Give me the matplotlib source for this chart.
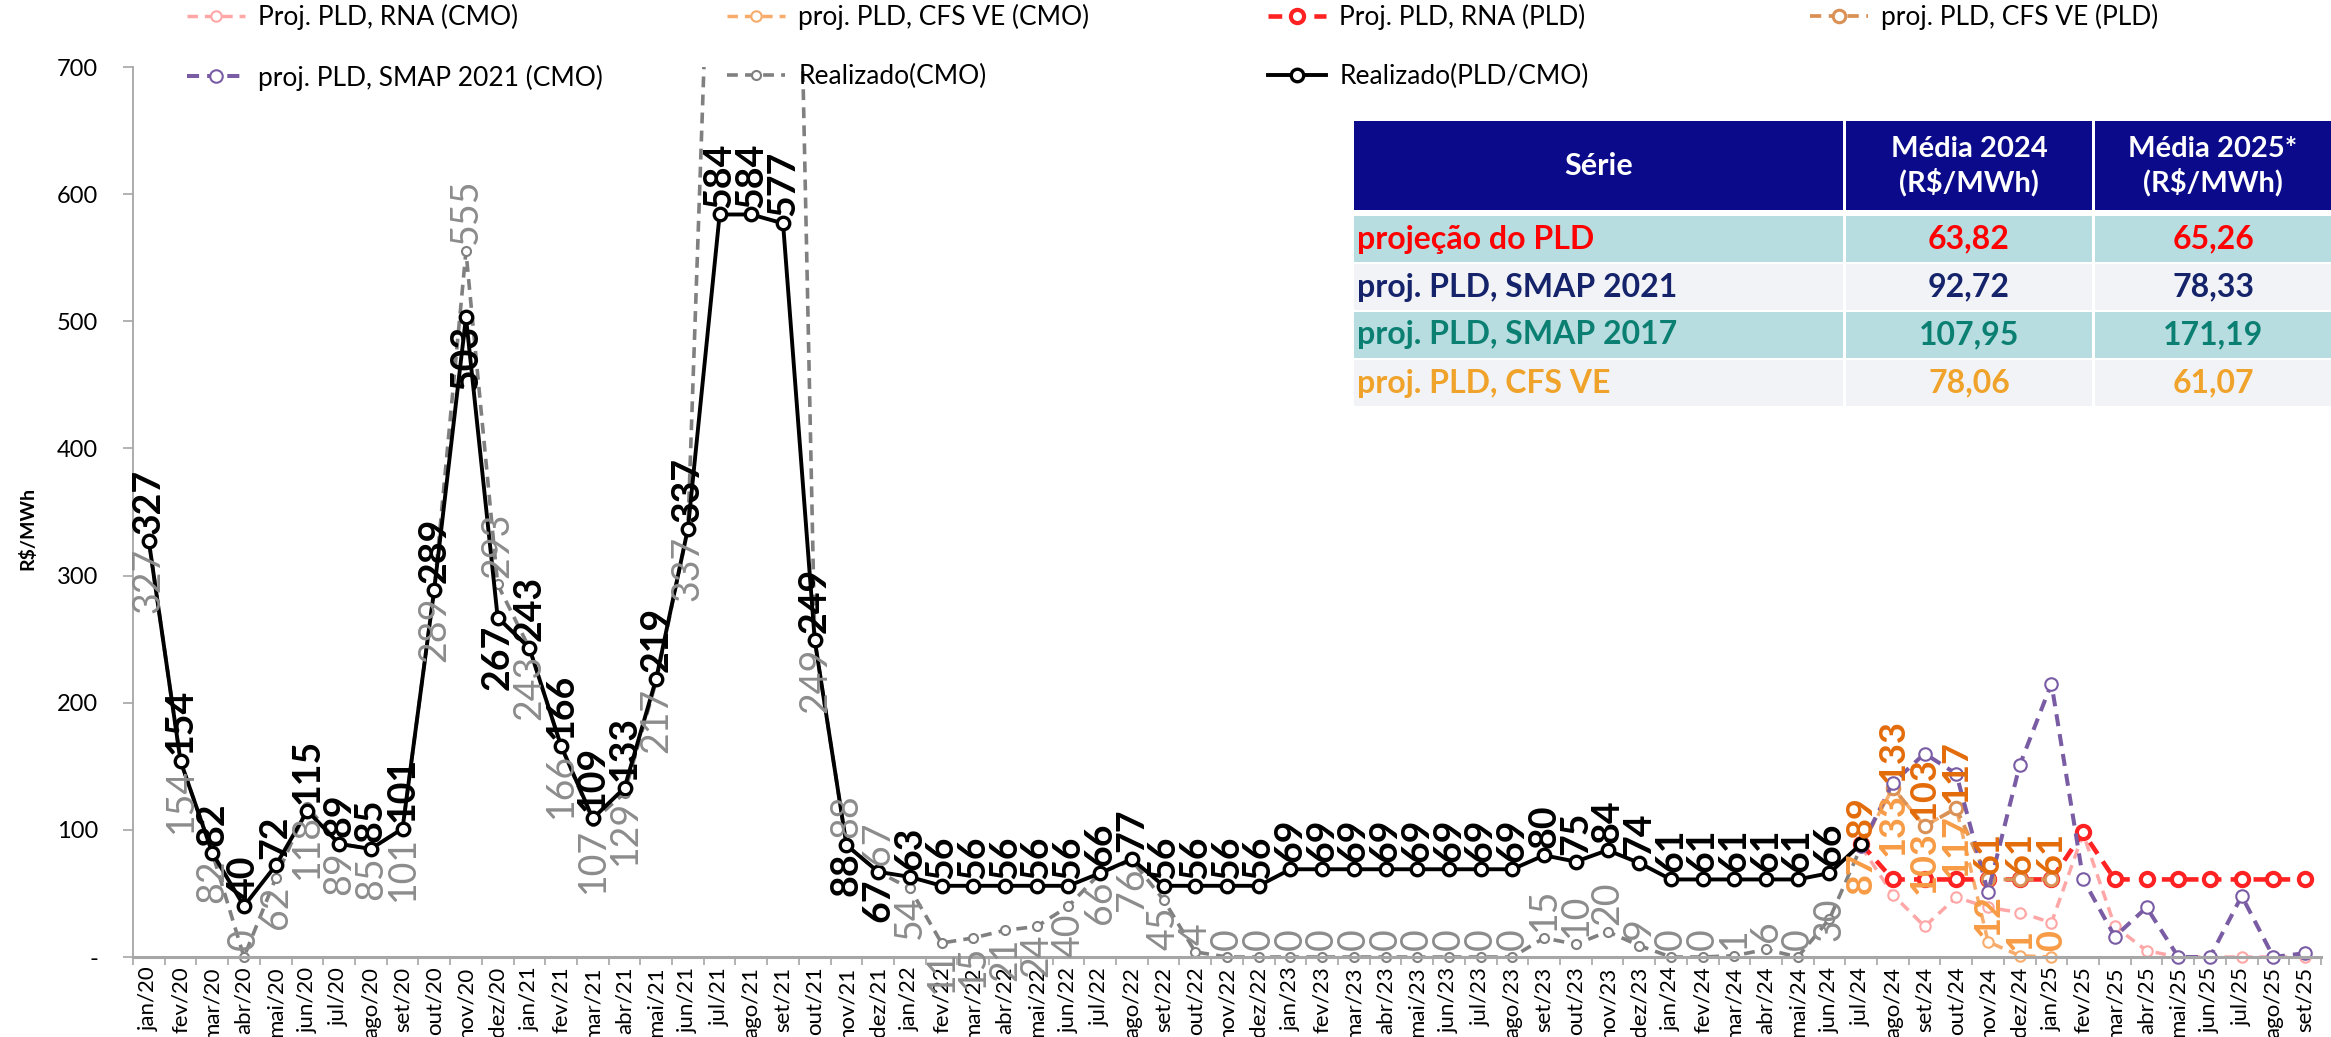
import matplotlib
matplotlib.use('Agg')
import matplotlib.pyplot as plt
import numpy as np
from matplotlib.patches import Rectangle

# ---------------- data ----------------
categories = [
    'jan/20', 'fev/20', 'mar/20', 'abr/20', 'mai/20', 'jun/20', 'jul/20', 'ago/20', 'set/20', 'out/20', 'nov/20', 'dez/20',
    'jan/21', 'fev/21', 'mar/21', 'abr/21', 'mai/21', 'jun/21', 'jul/21', 'ago/21', 'set/21', 'out/21', 'nov/21', 'dez/21',
    'jan/22', 'fev/22', 'mar/22', 'abr/22', 'mai/22', 'jun/22', 'jul/22', 'ago/22', 'set/22', 'out/22', 'nov/22', 'dez/22',
    'jan/23', 'fev/23', 'mar/23', 'abr/23', 'mai/23', 'jun/23', 'jul/23', 'ago/23', 'set/23', 'out/23', 'nov/23', 'dez/23',
    'jan/24', 'fev/24', 'mar/24', 'abr/24', 'mai/24', 'jun/24', 'jul/24', 'ago/24', 'set/24', 'out/24', 'nov/24', 'dez/24',
    'jan/25', 'fev/25', 'mar/25', 'abr/25', 'mai/25', 'jun/25', 'jul/25', 'ago/25', 'set/25',
]

# Realizado(PLD/CMO), jan/20 .. jul/24
realizado_pld = [327, 154, 82, 40, 72, 115, 89, 85, 101, 289, 503, 267,
                 243, 166, 109, 133, 219, 337, 584, 584, 577, 249, 88, 67,
                 63, 56, 56, 56, 56, 56, 66, 77, 56, 56, 56, 56,
                 69, 69, 69, 69, 69, 69, 69, 69, 80, 75, 84, 74,
                 61, 61, 61, 61, 61, 66, 89]
# Realizado(CMO), jan/20 .. jul/24 (jul-set/21 run above the 700 limit)
realizado_cmo = [327, 154, 82, 0, 62, 118, 89, 85, 101, 289, 555, 293,
                 243, 166, 107, 129, 217, 337, 1057, 1500, 1443, 249, 88, 67,
                 54, 11, 15, 21, 24, 40, 66, 76, 45, 4, 0, 0,
                 0, 0, 0, 0, 0, 0, 0, 0, 15, 10, 20, 9,
                 0, 0, 1, 6, 0, 30, 87]
# projections, jul/24 .. set/25
rna_cmo = [87, 49, 24, 47, 39, 35, 27, 97, 24, 5, 0, 0, 0, 0, 0]
rna_pld = [89, 61, 61, 61, 61, 61, 61, 98, 61, 61, 61, 61, 61, 61, 61]
smap2021_cmo = [87, 137, 160, 144, 51, 151, 215, 61, 16, 39, 0, 0, 48, 0, 3]
# projections, jul/24 .. jan/25
cfs_ve_cmo = [87, 133, 103, 117, 12, 1, 0]
cfs_ve_pld = [89, 133, 103, 117, 61, 61, 61]

# data-label placement (a = above, b = below, c = centre, - = none)
pos_pld = list('aaaaaaaaaabb' 'aaaaaaaaaabb' 'aaaaaaaaaaaa' 'aaaaaaaaaaaa' 'aaaaaa-')
pos_cmo = list('bbbabbbbbbaa' 'bbbbbb---baa' 'bbbbbbbbbaaa' 'aaaaaaaaaaaa' 'aaaaac-')
pos_cfs_cmo = list('bbbbaaa')
pos_cfs_pld = list('aaaaaaa')

# summary table
table_headers = ['Série', 'Média 2024\n(R$/MWh)', 'Média 2025*\n(R$/MWh)']
table_series = ['projeção do PLD', 'proj. PLD, SMAP 2021', 'proj. PLD, SMAP 2017', 'proj. PLD, CFS VE']
table_media_2024 = ['63,82', '92,72', '107,95', '78,06']
table_media_2025 = ['65,26', '78,33', '171,19', '61,07']

# ---------------- styling ----------------
W, H = 2331, 1037
FONT = 'Lato'
fig = plt.figure(figsize=(W / 100, H / 100), dpi=100)
ax = fig.add_axes([133 / W, 1 - 957 / H, (2321 - 133) / W, (957 - 67) / H])

AXIS_GRAY = '#A6A6A6'
C_RNA_CMO = '#FFA6A6'
C_CFS_CMO = '#F7AC6B'
C_RNA_PLD = '#FF2222'
C_CFS_PLD = '#DA9155'
C_SMAP = '#7A5CA5'
C_REAL_CMO = '#808080'
DASH = (0, (3, 2))

x = np.arange(len(categories))
p0 = categories.index('jul/24')
xp = x[p0:p0 + len(rna_pld)]
xc = x[p0:p0 + len(cfs_ve_pld)]
xr = x[:len(realizado_pld)]

l1, = ax.plot(xp, rna_cmo, color=C_RNA_CMO, lw=2.5, ls=DASH, marker='o', ms=7.5,
              mfc='white', mec=C_RNA_CMO, mew=1.5, label='Proj. PLD, RNA (CMO)')
l2, = ax.plot(xc, cfs_ve_cmo, color=C_CFS_CMO, lw=2.5, ls=DASH, marker='o', ms=7.5,
              mfc='white', mec=C_CFS_CMO, mew=1.5, label='proj. PLD, CFS VE (CMO)')
l3, = ax.plot(xp, rna_pld, color=C_RNA_PLD, lw=3.3, ls=DASH, marker='o', ms=9.5,
              mfc='white', mec=C_RNA_PLD, mew=3, label='Proj. PLD, RNA (PLD)')
l4, = ax.plot(xc, cfs_ve_pld, color=C_CFS_PLD, lw=2.7, ls=DASH, marker='o', ms=9,
              mfc='white', mec=C_CFS_PLD, mew=2.2, label='proj. PLD, CFS VE (PLD)')
l5, = ax.plot(xp, smap2021_cmo, color=C_SMAP, lw=2.9, ls=DASH, marker='o', ms=9,
              mfc='white', mec=C_SMAP, mew=1.5, label='proj. PLD, SMAP 2021 (CMO)')
l6, = ax.plot(xr, realizado_cmo, color=C_REAL_CMO, lw=2.6, ls=DASH, marker='o', ms=6.5,
              mfc='white', mec=C_REAL_CMO, mew=1.5, label='Realizado(CMO)')
l7, = ax.plot(xr, realizado_pld, color='black', lw=2.8, marker='o', ms=9,
              mfc='white', mec='black', mew=2.4, label='Realizado(PLD/CMO)')

ax.set_xlim(-0.5, len(categories) - 0.5)
ax.set_ylim(0, 700)
for ln in (l1, l2, l3, l4, l5, l6, l7):
    ln.set_clip_path(Rectangle((-0.5, -25), len(categories), 725, transform=ax.transData))


def put_label(xi, yi, text, pos, color, size, weight, gap):
    if pos == '-':
        return
    if pos == 'a':
        dy, va = gap, 'bottom'
    elif pos == 'b':
        dy, va = -gap, 'top'
    else:
        dy, va = 0, 'center'
    ax.annotate(text, (xi, yi), xytext=(0, dy), textcoords='offset points',
                rotation=90, ha='center', va=va, color=color, fontsize=size,
                fontweight=weight, family=FONT, annotation_clip=False, zorder=6)


for xi, v, p in zip(xr, realizado_cmo, pos_cmo):
    put_label(xi, v, str(v), p, '#8C8C8C', 27, 'normal', 5)
for xi, v, p in zip(xr, realizado_pld, pos_pld):
    put_label(xi, v, str(v), p, 'black', 27, 'bold', 5)
for xi, v, p in zip(xc, cfs_ve_cmo, pos_cfs_cmo):
    put_label(xi, v, str(v), p, '#F79B45', 26, 'bold', 4)
for xi, v, p in zip(xc, cfs_ve_pld, pos_cfs_pld):
    put_label(xi, v, str(v), p, '#E36C0A', 26, 'bold', 4)

# axes
for s in ('top', 'right'):
    ax.spines[s].set_visible(False)
ax.spines['left'].set_color(AXIS_GRAY)
ax.spines['left'].set_linewidth(1.3)
ax.spines['bottom'].set_color(AXIS_GRAY)
ax.spines['bottom'].set_linewidth(2.2)

ax.set_xticks(x)
ax.set_xticklabels(categories, rotation=90, fontsize=16, family=FONT)
ax.set_xticks(np.arange(-0.5, len(categories), 1), minor=True)
ax.tick_params(axis='x', which='major', length=0, pad=7)
ax.tick_params(axis='x', which='minor', length=6, color=AXIS_GRAY, width=1.2)

yt = list(range(0, 701, 100))
ax.set_yticks(yt)
ax.set_yticklabels(['-'] + [str(v) for v in yt[1:]], fontsize=17, family=FONT)
ax.tick_params(axis='y', length=7, color=AXIS_GRAY, width=1.2, pad=18)

fig.text(27 / W, 1 - 528 / H, 'R$/MWh', rotation=90, fontsize=14, fontweight='bold',
         family=FONT, ha='center', va='center')

# legend: four columns, two rows (row-major order as in the original)
cols = [[l1, l5], [l2, l6], [l3, l7], [l4]]
col_x = [187, 727, 1268, 1810]
for hs, cx in zip(cols, col_x):
    fig.legend(handles=hs, loc='upper left', bbox_to_anchor=(cx / W, 1 - 4 / H),
               frameon=False, prop=dict(family=FONT, size=19), handlelength=2.2,
               handletextpad=0.5, labelspacing=1.3, borderpad=0, borderaxespad=0)

# summary table
def rect_px(x0, y0, x1, y1, color):
    fig.add_artist(Rectangle((x0 / W, 1 - y1 / H), (x1 - x0) / W, (y1 - y0) / H,
                             transform=fig.transFigure, facecolor=color,
                             edgecolor='none', zorder=8))


col_edges = [(1354, 1843), (1846, 2092), (2095, 2331)]
rect_px(1350, 116, 2331, 414, 'white')
for (c0, c1), htxt in zip(col_edges, table_headers):
    rect_px(c0, 121, c1, 210, '#0A0A8A')
    fig.text((c0 + c1) / 2 / W, 1 - 166 / H, htxt, ha='center', va='center', color='white',
             fontsize=22 if htxt == 'Série' else 21, fontweight='bold', family=FONT,
             linespacing=1.25, zorder=9)

row_bg = ['#B7DDE0', '#F2F3F7', '#B7DDE0', '#F2F3F7']
row_fg = ['#FF0000', '#15236B', '#0B8072', '#F0A32A']
row_tops = [216, 264, 312, 360]
for i, top in enumerate(row_tops):
    bot = top + 46
    ym = 1 - (top + bot) / 2 / H
    for c0, c1 in col_edges:
        rect_px(c0, top, c1, bot, row_bg[i])
    fig.text(1357 / W, ym, table_series[i], ha='left', va='center', color=row_fg[i],
             fontsize=23, fontweight='bold', family=FONT, zorder=9)
    for (c0, c1), val in zip(col_edges[1:], (table_media_2024[i], table_media_2025[i])):
        fig.text((c0 + c1) / 2 / W, ym, val, ha='center', va='center', color=row_fg[i],
                 fontsize=23, fontweight='bold', family=FONT, zorder=9)

fig.savefig('out.png', dpi=100, facecolor='white')
